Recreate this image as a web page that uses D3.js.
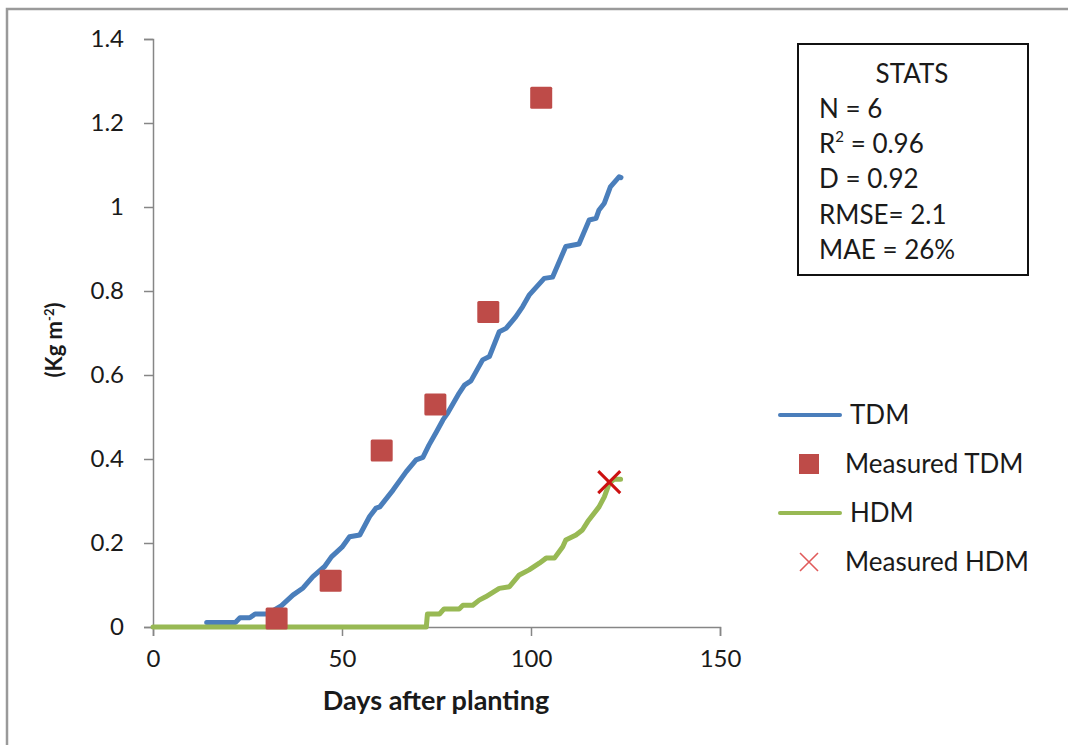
<!DOCTYPE html>
<html><head><meta charset="utf-8">
<script src="https://cdn.jsdelivr.net/npm/d3@7"></script>
<style>
html,body{margin:0;padding:0;background:#fff;}
svg text{font-family:Lato,"Open Sans",sans-serif;fill:#1a1a1a;}
</style></head>
<body>
<svg id="chart" width="1068" height="745"></svg>
<script>
// ---- data ----
const xTicks = [0, 50, 100, 150];
const yTicks = [0, 0.2, 0.4, 0.6, 0.8, 1, 1.2, 1.4];
const yTickLabels = ["0", "0.2", "0.4", "0.6", "0.8", "1", "1.2", "1.4"];

const tdmDays = [14.2,21.8,23,25.6,27,30,32,34,37,39.7,42.3,45.4,47.2,50,52,54.7,57.3,59,60,63.5,67,69.6,71.4,73,75,76.7,78,81,82.4,84.1,87.2,89,91.6,93.4,96,97.8,99.5,103.5,105.7,109.2,112.7,115.4,117.2,118,119.4,121,123.3,123.8];
const tdmValues = [0.011,0.011,0.022,0.022,0.031,0.031,0.04,0.051,0.076,0.093,0.12,0.144,0.167,0.19,0.215,0.219,0.263,0.283,0.286,0.326,0.37,0.398,0.404,0.433,0.465,0.493,0.51,0.557,0.576,0.586,0.636,0.644,0.703,0.711,0.739,0.763,0.79,0.83,0.833,0.906,0.912,0.969,0.973,0.993,1.009,1.048,1.072,1.07];

const hdmDays = [0,72.3,72.6,75.8,77,81,82,84.6,86.3,88,91.6,94.3,96.9,99.5,102.2,104,106.2,108.4,109.2,111.9,113.6,115,118,119.4,120.7,122,123.7];
const hdmValues = [0,0,0.031,0.031,0.043,0.043,0.052,0.052,0.064,0.072,0.092,0.096,0.124,0.136,0.152,0.164,0.164,0.191,0.207,0.219,0.231,0.251,0.286,0.31,0.342,0.352,0.352];

const measTdmDays = [32.7, 47, 60.5, 74.7, 88.7, 102.7];
const measTdmValues = [0.02, 0.11, 0.42, 0.53, 0.75, 1.26];

const measHdmDays = [120.7];
const measHdmValues = [0.345];

const legendLabels = ["TDM", "Measured TDM", "HDM", "Measured HDM"];
const statsTitle = "STATS";
const statsLines = ["N = 6", "R2 = 0.96", "D = 0.92", "RMSE= 2.1", "MAE = 26%"];

// ---- drawing ----
const svg = d3.select("#chart");
const blue = "#4a7ebb", red = "#be4b48", green = "#98b954", xRed = "#cc1111", axisCol = "#868686";

// outer frame
svg.append("rect").attr("x", 7).attr("y", 9).attr("width", 1100).attr("height", 800)
  .attr("fill", "none").attr("stroke", "#9a9a9a").attr("stroke-width", 2.5);

const x = d3.scaleLinear().domain([0, 150]).range([153, 720]);
const y = d3.scaleLinear().domain([0, 1.4]).range([627, 39]);

// axes
const xAxis = svg.append("g").attr("transform", `translate(0,${y(0)})`)
  .call(d3.axisBottom(x).tickValues(xTicks).tickSize(9).tickPadding(14).tickFormat(d3.format("d")));
const yAxis = svg.append("g").attr("transform", `translate(${x(0)},0)`)
  .call(d3.axisLeft(y).tickValues(yTicks).tickSize(9).tickPadding(20).tickFormat((d, i) => yTickLabels[i]));
[xAxis, yAxis].forEach(g => {
  g.select(".domain").attr("stroke", axisCol).attr("stroke-width", 1.5);
  g.selectAll(".tick line").attr("stroke", axisCol).attr("stroke-width", 1.5);
  g.selectAll(".tick text").attr("font-size", 24).attr("font-family", "Lato").attr("fill", "#1a1a1a");
});
xAxis.selectAll(".tick text").attr("dy", "0.71em");

// lines
const line = d3.line().x(d => x(d[0])).y(d => y(d[1]));
const tdm = tdmDays.map((d, i) => [d, tdmValues[i]]);
const hdm = hdmDays.map((d, i) => [d, hdmValues[i]]);
svg.append("path").datum(tdm).attr("d", line).attr("fill", "none").attr("stroke", blue)
  .attr("stroke-width", 5).attr("stroke-linejoin", "round").attr("stroke-linecap", "round");
svg.append("path").datum(hdm).attr("d", line).attr("fill", "none").attr("stroke", green)
  .attr("stroke-width", 5).attr("stroke-linejoin", "round").attr("stroke-linecap", "round");

// measured TDM squares
const sq = 22;
svg.selectAll("rect.mt").data(measTdmDays.map((d, i) => [d, measTdmValues[i]])).enter()
  .append("rect").attr("class", "mt")
  .attr("x", d => x(d[0]) - sq / 2).attr("y", d => y(d[1]) - sq / 2)
  .attr("width", sq).attr("height", sq).attr("rx", 1.5).attr("fill", red);

// measured HDM X
const xs = 11;
measHdmDays.forEach((d, i) => {
  const cx = x(d), cy = y(measHdmValues[i]);
  svg.append("path").attr("d", `M${cx - xs},${cy - xs}L${cx + xs},${cy + xs}M${cx - xs},${cy + xs}L${cx + xs},${cy - xs}`)
    .attr("stroke", xRed).attr("stroke-width", 3).attr("fill", "none");
});

// axis titles
svg.append("text").attr("x", 436).attr("y", 710).attr("text-anchor", "middle")
  .attr("font-size", 27).attr("font-weight", "bold").text("Days after planting");
const yt = svg.append("text").attr("transform", "translate(62,340) rotate(-90)")
  .attr("text-anchor", "middle").attr("font-size", 22).attr("font-weight", "bold");
yt.append("tspan").text("(Kg m");
yt.append("tspan").attr("font-size", 13).attr("dy", -8).text("-2");
yt.append("tspan").attr("dy", 8).text(")");

// legend
const lg = svg.append("g");
const legY = [415, 464, 513, 562];
lg.append("line").attr("x1", 780).attr("x2", 840).attr("y1", legY[0]).attr("y2", legY[0])
  .attr("stroke", blue).attr("stroke-width", 4).attr("stroke-linecap", "round");
lg.append("rect").attr("x", 799).attr("y", legY[1] - 10).attr("width", 20).attr("height", 20).attr("fill", red);
lg.append("line").attr("x1", 780).attr("x2", 840).attr("y1", legY[2]).attr("y2", legY[2])
  .attr("stroke", green).attr("stroke-width", 4).attr("stroke-linecap", "round");
lg.append("path").attr("d", `M${800},${legY[3] - 9}L${818},${legY[3] + 9}M${800},${legY[3] + 9}L${818},${legY[3] - 9}`)
  .attr("stroke", "#e05a5a").attr("stroke-width", 1.6);
const legX = [850, 845, 850, 845];
legendLabels.forEach((t, i) => {
  lg.append("text").attr("x", legX[i]).attr("y", legY[i] + 9).attr("font-size", 26).text(t);
});

// stats box
svg.append("rect").attr("x", 798).attr("y", 44).attr("width", 230).attr("height", 231)
  .attr("fill", "#fff").attr("stroke", "#111").attr("stroke-width", 2);
svg.append("text").attr("x", 912).attr("y", 83).attr("text-anchor", "middle").attr("font-size", 26).text(statsTitle);
const sy = [118, 153, 188, 224, 259];
statsLines.forEach((t, i) => {
  const tx = svg.append("text").attr("x", 819).attr("y", sy[i]).attr("font-size", 26);
  if (t.startsWith("R2")) {
    tx.append("tspan").text("R");
    tx.append("tspan").attr("font-size", 15).attr("dy", -11).text("2");
    tx.append("tspan").attr("dy", 11).text(t.slice(2));
  } else tx.text(t);
});
</script>
</body></html>
